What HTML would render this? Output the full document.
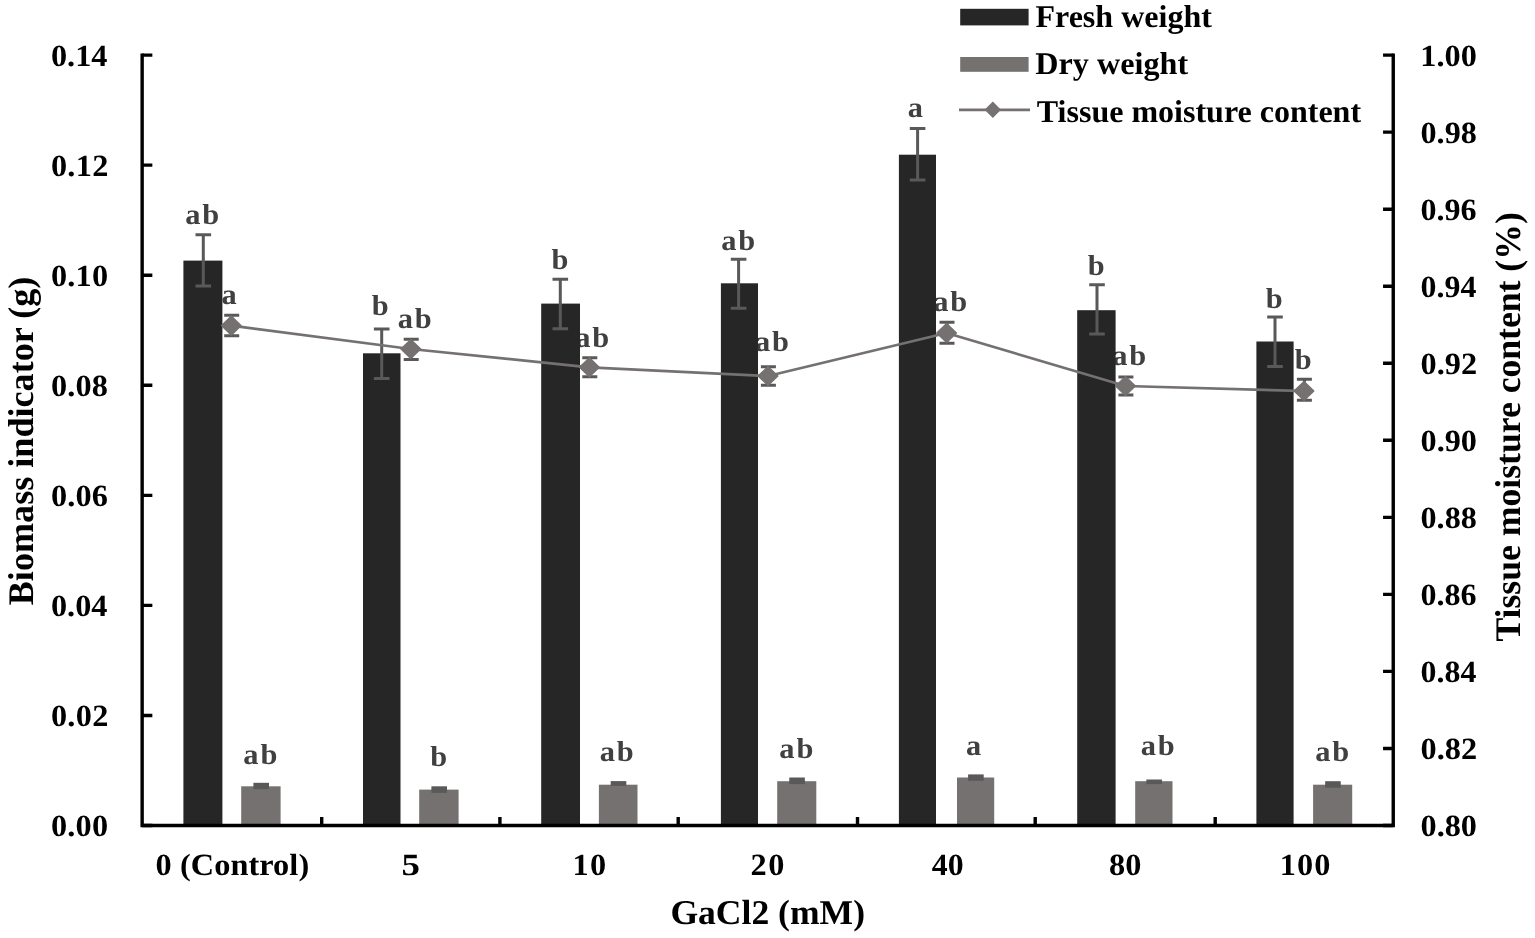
<!DOCTYPE html>
<html lang="en"><head><meta charset="utf-8"><title>Biomass indicator and tissue moisture content vs GaCl2</title>
<style>
html,body{margin:0;padding:0;background:#fff;}
body{width:1535px;height:938px;overflow:hidden;font-family:"Liberation Serif",serif;}
svg{display:block;}
text{white-space:pre;}
</style></head><body>
<svg width="1535" height="938" viewBox="0 0 1535 938" font-family="'Liberation Serif', serif" font-weight="bold" fill="#000" text-rendering="geometricPrecision">
<rect width="1535" height="938" fill="#fff"/>
<g id="linelabels" fill="#404040" text-rendering="geometricPrecision">
<text transform="translate(221.39 304) scale(1.0459 1)" font-size="29">a</text>
<text transform="translate(397.74 328) scale(1.0500 1)" font-size="29" letter-spacing="1.816">ab</text>
<text transform="translate(575.14 347) scale(1.0500 1)" font-size="29" letter-spacing="1.816">ab</text>
<text transform="translate(754.94 351) scale(1.0500 1)" font-size="29" letter-spacing="1.816">ab</text>
<text transform="translate(933.14 311) scale(1.0500 1)" font-size="29" letter-spacing="1.816">ab</text>
<text transform="translate(1112.14 365) scale(1.0500 1)" font-size="29" letter-spacing="1.816">ab</text>
<text transform="translate(1294.84 369) scale(1.0483 1)" font-size="29">b</text>
</g>
<g id="bars">
<rect x="183.4" y="260.6" width="39.00" height="564.90" fill="#262626"/>
<rect x="241.2" y="786.3" width="39.40" height="39.20" fill="#767171"/>
<rect x="363.0" y="353.3" width="37.50" height="472.20" fill="#262626"/>
<rect x="419.2" y="789.6" width="39.40" height="35.90" fill="#767171"/>
<rect x="541.2" y="303.6" width="38.80" height="521.90" fill="#262626"/>
<rect x="598.9" y="784.7" width="38.60" height="40.80" fill="#767171"/>
<rect x="720.9" y="283.3" width="37.10" height="542.20" fill="#262626"/>
<rect x="777.2" y="781.2" width="39.10" height="44.30" fill="#767171"/>
<rect x="898.9" y="154.7" width="37.10" height="670.80" fill="#262626"/>
<rect x="957.0" y="777.5" width="37.20" height="48.00" fill="#767171"/>
<rect x="1077.2" y="310.2" width="38.40" height="515.30" fill="#262626"/>
<rect x="1135.2" y="781.2" width="37.30" height="44.30" fill="#767171"/>
<rect x="1256.4" y="341.5" width="37.20" height="484.00" fill="#262626"/>
<rect x="1313.1" y="784.7" width="39.10" height="40.80" fill="#767171"/>
</g>
<g id="errors" stroke="#595959" stroke-width="3" fill="none">
<path d="M203.30 234.8V286.0M195.50 234.8h15.6M195.50 286.0h15.6"/>
<rect x="253.40" y="782.80" width="15.6" height="6.40" fill="#595959" stroke="none"/>
<path d="M231.70 315.2V335.7M224.20 315.2h15.0M224.20 335.7h15.0"/>
<path d="M381.70 328.9V378.4M373.90 328.9h15.6M373.90 378.4h15.6"/>
<rect x="431.40" y="786.30" width="15.6" height="6.60" fill="#595959" stroke="none"/>
<path d="M411.20 339.3V359.5M403.70 339.3h15.0M403.70 359.5h15.0"/>
<path d="M560.30 279.3V328.8M552.50 279.3h15.6M552.50 328.8h15.6"/>
<rect x="610.70" y="781.10" width="15.6" height="4.80" fill="#595959" stroke="none"/>
<path d="M589.80 357.7V376.7M582.30 357.7h15.0M582.30 376.7h15.0"/>
<path d="M738.60 259.2V308.2M730.80 259.2h15.6M730.80 308.2h15.6"/>
<rect x="789.25" y="777.50" width="15.6" height="6.60" fill="#595959" stroke="none"/>
<path d="M768.40 366.8V385.3M760.90 366.8h15.0M760.90 385.3h15.0"/>
<path d="M917.60 128.5V179.9M909.80 128.5h15.6M909.80 179.9h15.6"/>
<rect x="968.10" y="774.40" width="15.6" height="6.40" fill="#595959" stroke="none"/>
<path d="M947.00 322.3V343.2M939.50 322.3h15.0M939.50 343.2h15.0"/>
<path d="M1097.00 284.7V334.0M1089.20 284.7h15.6M1089.20 334.0h15.6"/>
<rect x="1146.35" y="779.50" width="15.6" height="4.60" fill="#595959" stroke="none"/>
<path d="M1125.90 377.0V395.0M1118.40 377.0h15.0M1118.40 395.0h15.0"/>
<path d="M1275.00 316.9V366.4M1267.20 316.9h15.6M1267.20 366.4h15.6"/>
<rect x="1325.15" y="781.20" width="15.6" height="6.50" fill="#595959" stroke="none"/>
<path d="M1304.40 379.3V400.2M1296.90 379.3h15.0M1296.90 400.2h15.0"/>
</g>
<polyline points="231.30,325.6 410.80,349.0 589.40,367.3 768.00,376.0 946.60,333.0 1125.50,386.0 1304.00,391.0" fill="none" stroke="#767171" stroke-width="2.7" stroke-linejoin="round"/>
<path d="M221.40 325.6L231.30 316.0L241.20 325.6L231.30 335.20000000000005Z" fill="#767171" stroke="#767171" stroke-width="1.2" stroke-linejoin="round"/>
<path d="M400.90 349.0L410.80 339.4L420.70 349.0L410.80 358.6Z" fill="#767171" stroke="#767171" stroke-width="1.2" stroke-linejoin="round"/>
<path d="M579.50 367.3L589.40 357.7L599.30 367.3L589.40 376.90000000000003Z" fill="#767171" stroke="#767171" stroke-width="1.2" stroke-linejoin="round"/>
<path d="M758.10 376.0L768.00 366.4L777.90 376.0L768.00 385.6Z" fill="#767171" stroke="#767171" stroke-width="1.2" stroke-linejoin="round"/>
<path d="M936.70 333.0L946.60 323.4L956.50 333.0L946.60 342.6Z" fill="#767171" stroke="#767171" stroke-width="1.2" stroke-linejoin="round"/>
<path d="M1115.60 386.0L1125.50 376.4L1135.40 386.0L1125.50 395.6Z" fill="#767171" stroke="#767171" stroke-width="1.2" stroke-linejoin="round"/>
<path d="M1294.10 391.0L1304.00 381.4L1313.90 391.0L1304.00 400.6Z" fill="#767171" stroke="#767171" stroke-width="1.2" stroke-linejoin="round"/>
<path d="M142.15 53.4V825.5M1393.25 53.4V825.5M140.45000000000002 825.5H1394.95" stroke="#000" stroke-width="3.4" fill="none"/>
<path d="M142.15 825.50h10.2M142.15 715.44h10.2M142.15 605.39h10.2M142.15 495.33h10.2M142.15 385.27h10.2M142.15 275.21h10.2M142.15 165.16h10.2M142.15 55.10h10.2M1393.25 825.50h-10.2M1393.25 748.46h-10.2M1393.25 671.42h-10.2M1393.25 594.38h-10.2M1393.25 517.34h-10.2M1393.25 440.30h-10.2M1393.25 363.26h-10.2M1393.25 286.22h-10.2M1393.25 209.18h-10.2M1393.25 132.14h-10.2M1393.25 55.10h-10.2M321.70 825.5v-8.6M499.90 825.5v-8.6M678.20 825.5v-8.6M857.50 825.5v-8.6M1035.20 825.5v-8.6M1215.20 825.5v-8.6" stroke="#000" stroke-width="3.4" fill="none"/>
<g id="ticklabels">
<text transform="translate(50.91 836) scale(1.0500 1)" font-size="30.8" letter-spacing="0.220">0.00</text>
<text transform="translate(50.91 726) scale(1.0500 1)" font-size="30.8" letter-spacing="0.271">0.02</text>
<text transform="translate(50.91 616) scale(1.0500 1)" font-size="30.8" letter-spacing="0.014">0.04</text>
<text transform="translate(50.91 506) scale(1.0500 1)" font-size="30.8" letter-spacing="0.117">0.06</text>
<text transform="translate(50.91 396) scale(1.0500 1)" font-size="30.8" letter-spacing="0.168">0.08</text>
<text transform="translate(50.91 286) scale(1.0500 1)" font-size="30.8" letter-spacing="0.220">0.10</text>
<text transform="translate(50.91 176) scale(1.0500 1)" font-size="30.8" letter-spacing="0.271">0.12</text>
<text transform="translate(50.91 66) scale(1.0500 1)" font-size="30.8" letter-spacing="0.014">0.14</text>
<text transform="translate(1420.51 836) scale(1.0479 1)" font-size="30.8">0.80</text>
<text transform="translate(1420.51 759) scale(1.0500 1)" font-size="30.8" letter-spacing="0.017">0.82</text>
<text transform="translate(1420.52 682) scale(1.0355 1)" font-size="30.8">0.84</text>
<text transform="translate(1420.52 605) scale(1.0417 1)" font-size="30.8">0.86</text>
<text transform="translate(1420.51 528) scale(1.0448 1)" font-size="30.8">0.88</text>
<text transform="translate(1420.51 451) scale(1.0479 1)" font-size="30.8">0.90</text>
<text transform="translate(1420.51 374) scale(1.0500 1)" font-size="30.8" letter-spacing="0.017">0.92</text>
<text transform="translate(1420.52 297) scale(1.0355 1)" font-size="30.8">0.94</text>
<text transform="translate(1420.52 220) scale(1.0417 1)" font-size="30.8">0.96</text>
<text transform="translate(1420.51 143) scale(1.0448 1)" font-size="30.8">0.98</text>
<text transform="translate(1420.21 66) scale(1.0500 1)" font-size="30.8" letter-spacing="0.059">1.00</text>
<text transform="translate(155.51 875) scale(1.0500 1)" font-size="30.8" letter-spacing="0.065">0 (Control)</text>
<text transform="translate(401.42 875) scale(1.1994 1)" font-size="30.8">5</text>
<text transform="translate(572.51 875) scale(1.0500 1)" font-size="30.8" letter-spacing="1.182">10</text>
<text transform="translate(750.51 875) scale(1.0500 1)" font-size="30.8" letter-spacing="1.378">20</text>
<text transform="translate(931.72 875) scale(1.0342 1)" font-size="30.8">40</text>
<text transform="translate(1109.07 875) scale(1.0495 1)" font-size="30.8">80</text>
<text transform="translate(1279.81 875) scale(1.0500 1)" font-size="30.8" letter-spacing="0.986">100</text>
</g>
<text transform="translate(670.42 924) scale(1.0222 1)" font-size="34.8">GaCl2 (mM)</text>
<text transform="translate(32.90 605.24) rotate(-90) scale(1.0038 1)" font-size="36">Biomass indicator (g)</text>
<text transform="translate(1519.80 641.53) rotate(-90) scale(0.9899 1)" font-size="36">Tissue moisture content (%)</text>
<g id="datalabels" fill="#404040" text-rendering="geometricPrecision">
<text transform="translate(185.24 224) scale(1.0500 1)" font-size="29" letter-spacing="1.816">ab</text>
<text transform="translate(371.74 315) scale(1.0483 1)" font-size="29">b</text>
<text transform="translate(551.54 269) scale(1.0483 1)" font-size="29">b</text>
<text transform="translate(721.14 250) scale(1.0500 1)" font-size="29" letter-spacing="1.816">ab</text>
<text transform="translate(907.69 117) scale(1.0459 1)" font-size="29">a</text>
<text transform="translate(1087.74 275) scale(1.0483 1)" font-size="29">b</text>
<text transform="translate(1265.74 308) scale(1.0483 1)" font-size="29">b</text>
<text transform="translate(243.34 764) scale(1.0500 1)" font-size="29" letter-spacing="1.816">ab</text>
<text transform="translate(430.14 766) scale(1.0483 1)" font-size="29">b</text>
<text transform="translate(599.64 761) scale(1.0500 1)" font-size="29" letter-spacing="1.816">ab</text>
<text transform="translate(779.34 758) scale(1.0500 1)" font-size="29" letter-spacing="1.816">ab</text>
<text transform="translate(965.99 755) scale(1.0459 1)" font-size="29">a</text>
<text transform="translate(1140.64 755) scale(1.0500 1)" font-size="29" letter-spacing="1.816">ab</text>
<text transform="translate(1315.14 761) scale(1.0500 1)" font-size="29" letter-spacing="1.816">ab</text>
</g>
<rect x="960.2" y="8.8" width="68.4" height="16.6" fill="#262626"/>
<rect x="960.2" y="57" width="68.4" height="14.8" fill="#767171"/>
<path d="M959 109.8H1030" stroke="#767171" stroke-width="2.7"/>
<path d="M984.6 109.8L992.8 101.6L1001 109.8L992.8 118Z" fill="#767171"/>
<text transform="translate(1035.42 27) scale(1.0139 1)" font-size="31.6">Fresh weight</text>
<text transform="translate(1035.36 74) scale(1.0180 1)" font-size="31.6">Dry weight</text>
<text transform="translate(1036.82 122) scale(1.0132 1)" font-size="31.6">Tissue moisture content</text>
</svg>
</body></html>
